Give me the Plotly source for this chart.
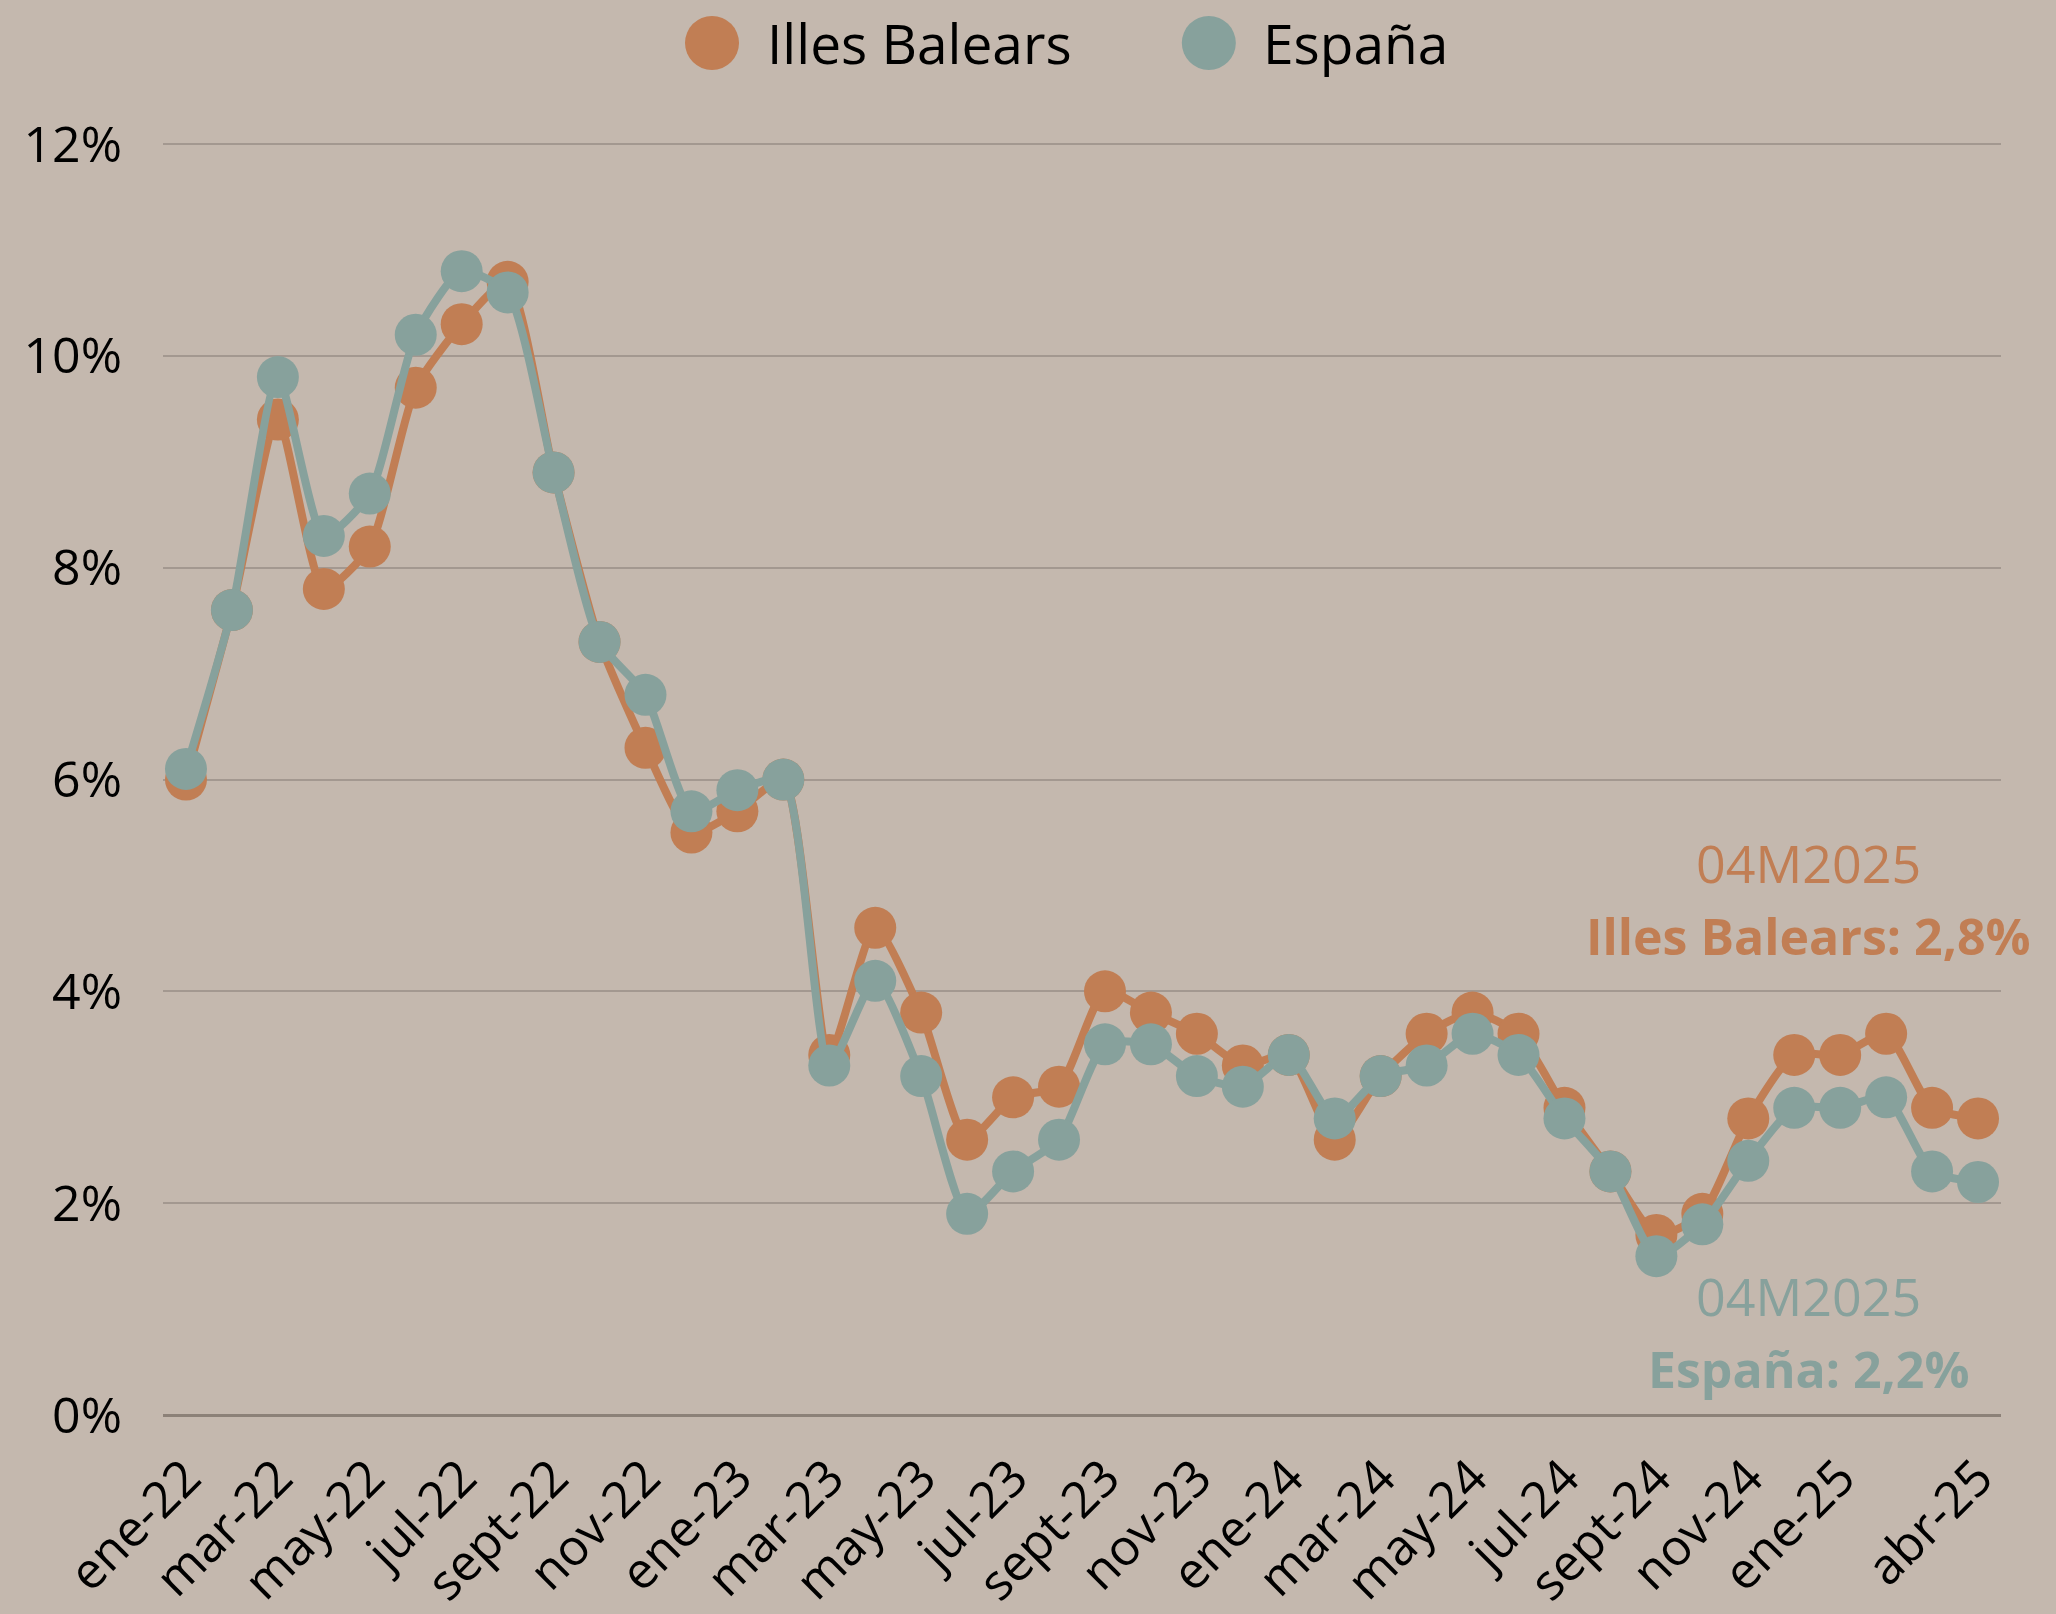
import plotly.graph_objects as go

months = [
    "ene-22", "feb-22", "mar-22", "abr-22", "may-22", "jun-22", "jul-22", "ago-22", "sept-22", "oct-22", "nov-22", "dic-22",
    "ene-23", "feb-23", "mar-23", "abr-23", "may-23", "jun-23", "jul-23", "ago-23", "sept-23", "oct-23", "nov-23", "dic-23",
    "ene-24", "feb-24", "mar-24", "abr-24", "may-24", "jun-24", "jul-24", "ago-24", "sept-24", "oct-24", "nov-24", "dic-24",
    "ene-25", "feb-25", "mar-25", "abr-25",
]
illes_balears = [
    6.0, 7.6, 9.4, 7.8, 8.2, 9.7, 10.3, 10.7, 8.9, 7.3, 6.3, 5.5,
    5.7, 6.0, 3.4, 4.6, 3.8, 2.6, 3.0, 3.1, 4.0, 3.8, 3.6, 3.3,
    3.4, 2.6, 3.2, 3.6, 3.8, 3.6, 2.9, 2.3, 1.7, 1.9, 2.8, 3.4,
    3.4, 3.6, 2.9, 2.8,
]
espana = [
    6.1, 7.6, 9.8, 8.3, 8.7, 10.2, 10.8, 10.6, 8.9, 7.3, 6.8, 5.7,
    5.9, 6.0, 3.3, 4.1, 3.2, 1.9, 2.3, 2.6, 3.5, 3.5, 3.2, 3.1,
    3.4, 2.8, 3.2, 3.3, 3.6, 3.4, 2.8, 2.3, 1.5, 1.8, 2.4, 2.9,
    2.9, 3.0, 2.3, 2.2,
]
tick_labels = months[0:37:2] + [months[-1]]
y_ticks = [0, 2, 4, 6, 8, 10, 12]
y_tick_text = [f"{v}%" for v in y_ticks]

BG = "#C4B8AE"
ORANGE = "#C17E54"
TEAL = "#87A19C"
FONT = "Open Sans"

fig = go.Figure()
for name, vals, col in [("Illes Balears", illes_balears, ORANGE), ("España", espana, TEAL)]:
    fig.add_trace(go.Scatter(
        x=months, y=vals, name=name, mode="lines+markers",
        line=dict(color=col, width=8, shape="spline", smoothing=0.6),
        marker=dict(color=col, size=42),
        showlegend=False,
        hovertemplate="%{x}<br>" + name + ": %{y:.1f}%<extra></extra>",
    ))

# hand-made legend (plotly caps legend marker size)
for px_, tx, label, col in [(0.2987, 0.3275, "Illes Balears", ORANGE), (0.569, 0.5974, "España", TEAL)]:
    fig.add_shape(type="circle", xref="paper", yref="paper", xsizemode="pixel", ysizemode="pixel",
                  xanchor=px_, yanchor=1.0778, x0=-27, x1=27, y0=-27, y1=27,
                  fillcolor=col, line=dict(width=0))
    fig.add_annotation(xref="paper", yref="paper", x=tx, y=1.0778, text=label, showarrow=False,
                       xanchor="left", yanchor="middle", font=dict(size=55, color="#000000", family=FONT))

for y, text, col, sz in [(5.22, "04M2025", ORANGE, 52), (4.52, "<b>Illes Balears: 2,8%</b>", ORANGE, 50),
                         (1.13, "04M2025", TEAL, 52), (0.43, "<b>España: 2,2%</b>", TEAL, 50)]:
    fig.add_annotation(xref="paper", yref="y", x=0.8955, y=y, text=text, showarrow=False,
                       xanchor="center", yanchor="middle", font=dict(size=sz, color=col, family=FONT))

fig.update_layout(
    width=2056, height=1614,
    paper_bgcolor=BG, plot_bgcolor=BG,
    font=dict(family=FONT, color="#000000", size=50),
    margin=dict(l=163, r=55, t=142, b=199),
    showlegend=False,
)
fig.update_xaxes(
    type="category", range=[-0.5, 39.5], automargin=False,
    tickmode="array", tickvals=tick_labels, ticktext=tick_labels,
    tickangle=-45, tickfont=dict(size=50, color="#000000"),
    showgrid=False, showline=False, zeroline=False, ticks="", ticklabelstandoff=22,
)
fig.update_yaxes(
    range=[0, 12.02], automargin=False, tickmode="array", tickvals=y_ticks, ticktext=y_tick_text,
    tickfont=dict(size=50, color="#000000"),
    gridcolor="#A39890", gridwidth=2, zeroline=True, zerolinecolor="#8C8178", zerolinewidth=3,
    showline=False, ticks="", ticklabelstandoff=40,
)

fig.write_html("out.html", config={"displayModeBar": False},
               post_script="document.body.style.margin='0';")
